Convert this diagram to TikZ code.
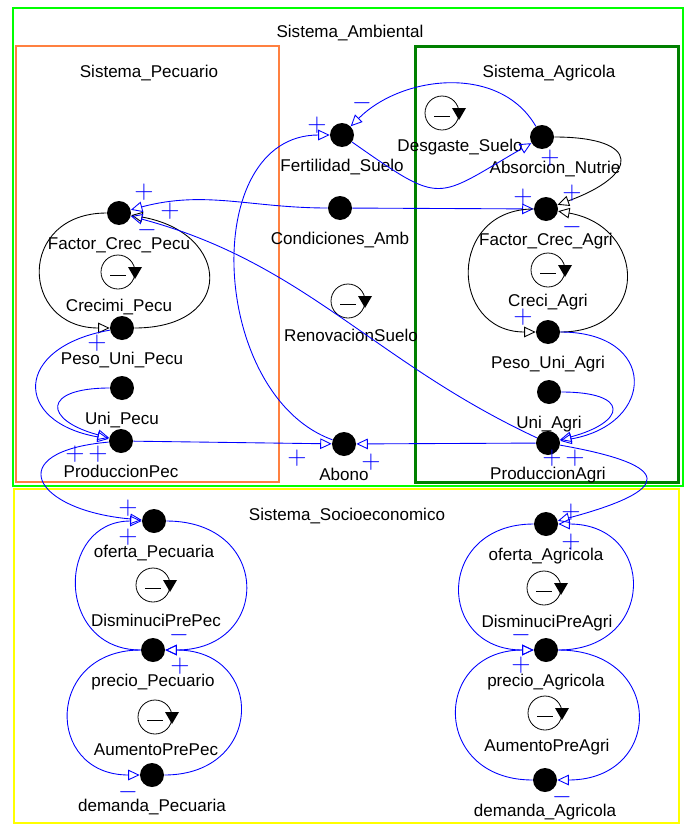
\documentclass[tikz,border=0pt]{standalone}
\usepackage{fontspec}
\setmainfont{Liberation Sans}
\usepackage{tikz}
\usetikzlibrary{arrows.meta}

\definecolor{verdeAmb}{RGB}{0,255,0}
\definecolor{naranjaPec}{RGB}{255,128,64}
\definecolor{verdeAgr}{RGB}{0,128,0}
\definecolor{amarilloSoc}{RGB}{255,255,0}

\begin{document}
\begin{tikzpicture}[
        x=0.02cm, y=-0.02cm,
        >={Triangle[open, length=6.5pt, width=6pt]},
        var/.style={circle, fill=black, minimum size=0.48cm, inner sep=0pt},
        every label/.style={font=\fontsize{9.7}{11}\selectfont, inner sep=0pt, text height=7pt, text depth=2pt, yshift=-0.22cm},
        rotulo/.style={font=\fontsize{9.7}{11}\selectfont, inner sep=0pt},
        signo/.style={blue, font=\fontsize{15}{15}\selectfont, inner sep=0pt},
        flujo/.style={->, draw=blue, line width=0.5pt},
        negro/.style={->, draw=black, line width=0.5pt},
        lazo/.pic={
            \draw[line width=0.45pt] (0,0) circle (17);
            \fill (10,-5) -- (24,-5) -- (17,7) -- cycle;
            \draw[line width=0.4pt] (-8,3) -- (8,3);
        }
    ]
    \useasboundingbox (0,0) rectangle (686,825);

    % sistemas
    \draw[verdeAmb, line width=0.05cm] (13,8) rectangle (683,486);
    \draw[naranjaPec, line width=0.05cm] (16,46) rectangle (279,482);
    \draw[verdeAgr, line width=0.06cm] (415,46) rectangle (678,482);
    \draw[amarilloSoc, line width=0.05cm] (14,489) rectangle (679,823);
    \node[rotulo] (tAmb) at (350,33) {Sistema\_Ambiental};
    \node[rotulo] (tPec) at (149,73) {Sistema\_Pecuario};
    \node[rotulo] (tAgr) at (549,73) {Sistema\_Agricola};
    \node[rotulo] (tSoc) at (347,516) {Sistema\_Socioeconomico};

    % variables
    \node[var, label=below:{Factor\_Crec\_Pecu}] (fcp) at (119,213) {};
    \node[var, label=below:{Peso\_Uni\_Pecu}] (pup) at (122,328) {};
    \node[var, label=below:{Uni\_Pecu}] (up) at (122,388) {};
    \node[var, label=below:{ProduccionPec}] (pp) at (121,441) {};
    \node[var, label=below:{Fertilidad\_Suelo}] (fs) at (342,135) {};
    \node[var, label=below:{Condiciones\_Amb}] (ca) at (340,208) {};
    \node[var, label=below:{Abono}] (ab) at (344,444) {};
    \node[var, label={[xshift=0.26cm]below:{Absorcion\_Nutrie}}] (abs) at (542,137) {};
    \node[var, label=below:{Factor\_Crec\_Agri}] (fca) at (546,209) {};
    \node[var, label=below:{Peso\_Uni\_Agri}] (pua) at (548,332) {};
    \node[var, label=below:{Uni\_Agri}] (ua) at (549,392) {};
    \node[var, label=below:{ProduccionAgri}] (pa) at (548,443) {};
    \node[var, label=below:{oferta\_Pecuaria}] (op) at (154,521) {};
    \node[var, label=below:{precio\_Pecuario}] (prp) at (153,650) {};
    \node[var, label=below:{demanda\_Pecuaria}] (dp) at (152,775) {};
    \node[var, label=below:{oferta\_Agricola}] (oa) at (546,524) {};
    \node[var, label=below:{precio\_Agricola}] (pra) at (546,650) {};
    \node[var, label=below:{demanda\_Agricola}] (da) at (545,780) {};

    % lazos
    \pic (lds) at (442,113) {lazo};
    \pic (lcp) at (118,272) {lazo};
    \pic (lrs) at (348,301) {lazo};
    \pic (lca) at (548,270) {lazo};
    \pic (ldpp) at (153,585) {lazo};
    \pic (lapp) at (155,717) {lazo};
    \pic (ldpa) at (544,588) {lazo};
    \pic (lapa) at (545,713) {lazo};
    \node[rotulo] (tds) at (460,147) {Desgaste\_Suelo};
    \node[rotulo] (tcp) at (119,307) {Crecimi\_Pecu};
    \node[rotulo] (trs) at (351,335) {RenovacionSuelo};
    \node[rotulo] (tca) at (548,302) {Creci\_Agri};
    \node[rotulo] (tdpp) at (156,620) {DisminuciPrePec};
    \node[rotulo] (tapp) at (156,750) {AumentoPrePec};
    \node[rotulo] (tdpa) at (547,623) {DisminuciPreAgri};
    \node[rotulo] (tapa) at (547,747) {AumentoPreAgri};

    % pecuario
    \path (fcp) edge[negro, out=180, in=180, looseness=2] (pup)
          (pup) edge[negro, out=0, in=-10, looseness=2.3] (fcp);
    \path (pup) edge[flujo, out=190, in=170, looseness=2.3] (pp)
          (up) edge[flujo, out=180, in=165, looseness=3.5] (pp);
    \path (pp) edge[flujo, out=185, in=175, looseness=3.3] (op);

    % ambiental
    \path (ca) edge[flujo, out=180, in=15] (fcp)
          (ca) edge[flujo] (fca);
    \path (pa) edge[flujo, out=155, in=-15] (fcp);
    \path (pp) edge[flujo] (ab)
          (pa) edge[flujo] (ab);
    \path (ab) edge[flujo, out=160, in=180, looseness=1.1] (fs);
    \path (fs) edge[flujo, out=-35, in=-150, looseness=1.6] (abs)
          (abs) edge[flujo, out=120, in=45] (fs);

    % agricola
    \path (abs) edge[negro, out=0, in=20, looseness=3.3] (fca);
    \path (fca) edge[negro, out=180, in=180, looseness=1.8] (pua)
          (pua) edge[negro, out=0, in=-10, looseness=1.9] (fca);
    \path (pua) edge[flujo, out=0, in=10, looseness=2.3] (pa)
          (ua) edge[flujo, out=0, in=15, looseness=3.7] (pa);
    \path (pa) edge[flujo, out=-10, in=15, looseness=4] (oa);

    % socioeconomico
    \path (op) edge[flujo, out=0, in=0, looseness=2.1] (prp)
          (prp) edge[flujo, out=180, in=180, looseness=1.7] (op);
    \path (prp) edge[flujo, out=180, in=180, looseness=1.95] (dp)
          (dp) edge[flujo, out=0, in=0, looseness=2.05] (prp);
    \path (oa) edge[flujo, out=180, in=180, looseness=2] (pra)
          (pra) edge[flujo, out=0, in=0, looseness=2] (oa);
    \path (pra) edge[flujo, out=0, in=0, looseness=2.1] (da)
          (da) edge[flujo, out=180, in=180, looseness=2] (pra);

    % signos
    \node[signo] (s1) at (144,192) {$+$};
    \node[signo] (s2) at (170,211) {$+$};
    \node[signo] (s3) at (147,230) {$-$};
    \node[signo] (s4) at (97,343) {$+$};
    \node[signo] (s5) at (523,197) {$+$};
    \node[signo] (s6) at (572,193) {$+$};
    \node[signo] (s7) at (572,227) {$-$};
    \node[signo] (s8) at (523,317) {$+$};
    \node[signo] (s9) at (75,454) {$+$};
    \node[signo] (s10) at (98,454) {$+$};
    \node[signo] (s11) at (297,458) {$+$};
    \node[signo] (s12) at (371,462) {$+$};
    \node[signo] (s13) at (317,125) {$+$};
    \node[signo] (s14) at (362,103) {$-$};
    \node[signo] (s15) at (550,158) {$+$};
    \node[signo] (s16) at (552,458) {$+$};
    \node[signo] (s17) at (575,458) {$+$};
    \node[signo] (s18) at (128,508) {$+$};
    \node[signo] (s19) at (128,537) {$+$};
    \node[signo] (s20) at (179,635) {$-$};
    \node[signo] (s21) at (180,666) {$+$};
    \node[signo] (s22) at (128,792) {$-$};
    \node[signo] (s23) at (571,512) {$+$};
    \node[signo] (s24) at (571,542) {$+$};
    \node[signo] (s25) at (521,635) {$-$};
    \node[signo] (s26) at (521,665) {$+$};
    \node[signo] (s27) at (562,797) {$-$};

\end{tikzpicture}
\end{document}
